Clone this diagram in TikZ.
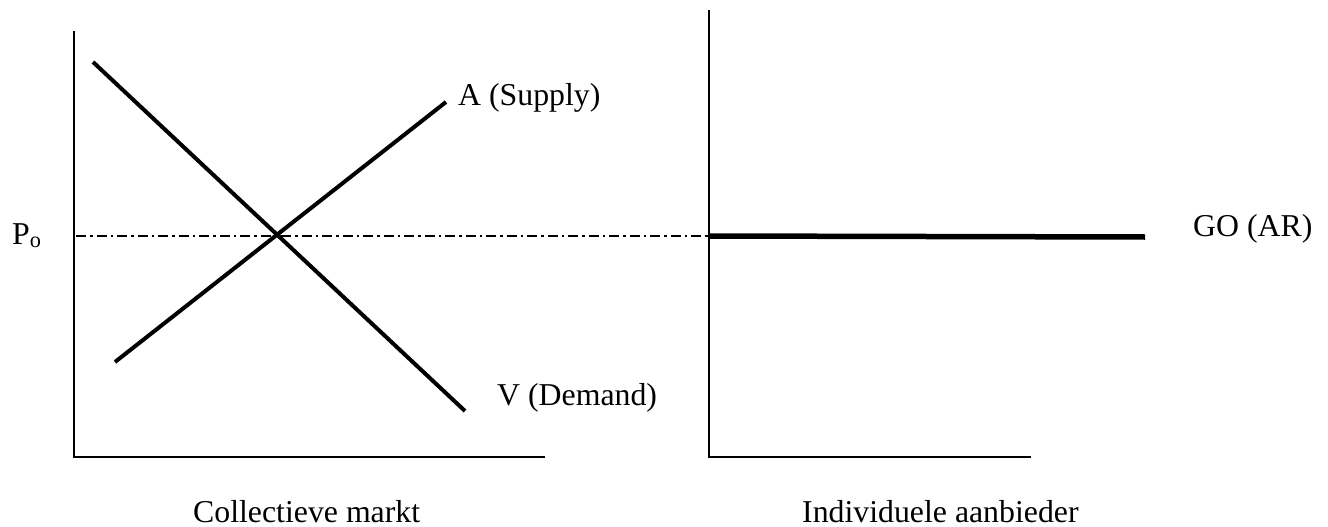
\documentclass[tikz,border=0pt]{standalone}
\usepackage{fontspec}
\setmainfont{Liberation Serif}
\begin{document}
\begin{tikzpicture}[x=1pt,y=-1pt,
  axis/.style={line width=2.2pt,line cap=rect},
  curve/.style={line width=4pt},
  lbl/.style={font=\fontsize{31.8}{36}\selectfont,inner sep=0pt,anchor=base west},
  dd/.style={line width=1.6pt,dash pattern=on 10pt off 4pt on 2.5pt off 4pt}]
\useasboundingbox (0,0) rectangle (1328,527);
% left axes
\coordinate (lt) at (74,32);
\coordinate (lo) at (74,457);
\coordinate (lr) at (544,457);
\draw[axis] (lt) -- (lo) -- (lr);
% right axes
\coordinate (rt) at (709,11);
\coordinate (ro) at (709,457);
\coordinate (rr) at (1030,457);
\draw[axis] (rt) -- (ro) -- (rr);
% demand and supply
\coordinate (d1) at (93,62);
\coordinate (d2) at (465,411);
\coordinate (s1) at (115,362);
\coordinate (s2) at (446,102);
\draw[curve] (d1) -- (d2);
\draw[curve] (s1) -- (s2);
% price line
\coordinate (p0) at (76,236);
\coordinate (p1) at (709,236);
\coordinate (p2) at (1145,237);
\draw[dd] (p0) -- (p1);
\draw[line width=5.5pt] (p1) -- (p2);
% labels
\node[lbl] (A) at (458,105) {A (Supply)};
\node[lbl] (V) at (497,405) {V (Demand)};
\node[lbl] (P) at (12,244) {P\textsubscript{o}};
\node[lbl] (GO) at (1193,236) {GO (AR)};
\node[lbl] (cm) at (193,522) {Collectieve markt};
\node[lbl] (ia) at (802,522) {Individuele aanbieder};
\end{tikzpicture}
\end{document}
